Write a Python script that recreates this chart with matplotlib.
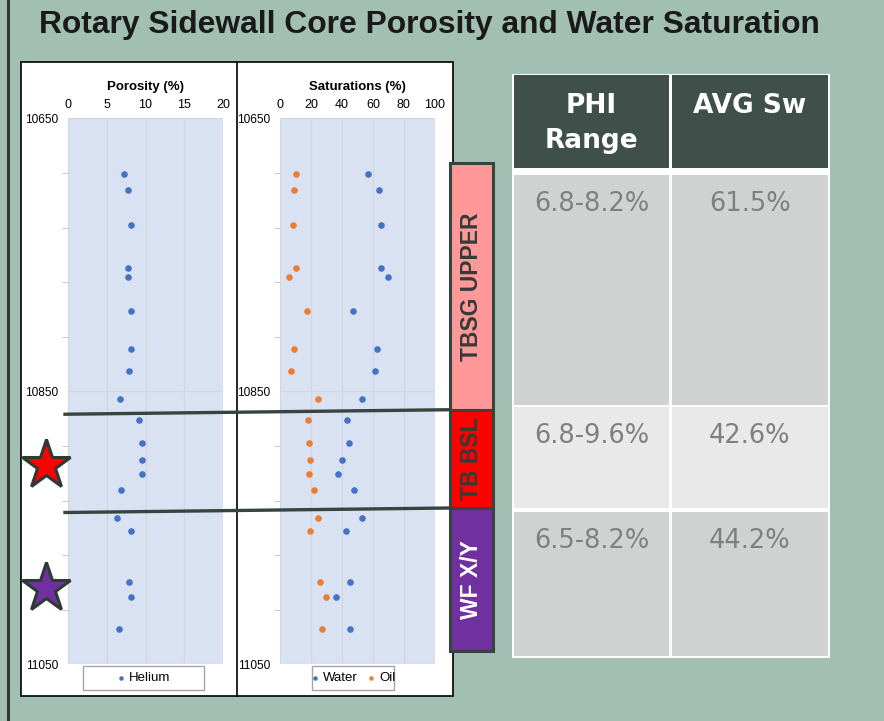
import matplotlib
matplotlib.use('Agg')
import matplotlib.pyplot as plt
import numpy as np
from matplotlib.patches import Rectangle
from matplotlib.lines import Line2D
from matplotlib.transforms import blended_transform_factory

# core sample data
depth = [10690.6, 10702.5, 10728, 10760, 10766.5, 10791, 10819, 10835, 10855.4, 10871,
         10888, 10900, 10910.6, 10922.5, 10943, 10952, 10990, 11001, 11024]
helium = [7.2, 7.7, 8.1, 7.7, 7.8, 8.1, 8.2, 7.9, 6.7, 9.2,
          9.6, 9.6, 9.6, 6.8, 6.4, 8.1, 7.9, 8.2, 6.6]
water = [57.0, 64.0, 65.3, 65.3, 69.6, 47.1, 62.6, 61.3, 52.7, 43.4,
         44.7, 40.2, 37.2, 47.7, 52.7, 42.7, 45.3, 35.9, 45.3]
oil = [10.4, 9.1, 8.4, 10.4, 5.8, 17.5, 9.1, 7.1, 24.2, 17.7,
       18.6, 19.2, 18.6, 21.6, 24.2, 19.2, 25.9, 29.6, 27.2]

# zones
zone_names = ['TBSG UPPER', 'TB BSL', 'WF X/Y']
zone_tops = [10683, 10863.5, 10935.5]
zone_bases = [10863.5, 10935.5, 11040]
zone_colors = ['#FF9999', '#FF0000', '#7030A0']
zone_text = ['#333B38', '#333B38', 'white']
star_depths = [10904, 10994]
star_colors = ['#FF0000', '#7030A0']

# summary table
table_cols = ['PHI\nRange', 'AVG Sw']
phi_range = ['6.8-8.2%', '6.8-9.6%', '6.5-8.2%']
avg_sw = ['61.5%', '42.6%', '44.2%']

W, H = 884, 721
BG = '#A2BFB3'
DARK = '#35443E'


def fx(px):
    return px / W


def fy(py):
    return 1 - py / H


fig = plt.figure(figsize=(W / 100, H / 100), dpi=100, facecolor=BG)
plt.rcParams['font.family'] = ['Liberation Sans', 'DejaVu Sans']

# left border line of the slide
fig.add_artist(Line2D([fx(8), fx(8)], [0, 1], color='#2E3A35', lw=2.2))

# white chart box
fig.add_artist(Rectangle((fx(21), fy(696)), fx(453) - fx(21), fy(62) - fy(696),
                         facecolor='white', edgecolor='black', lw=1.2, zorder=-1))
fig.add_artist(Line2D([fx(237), fx(237)], [fy(696), fy(62)], color='black', lw=1.2, zorder=-0.5))

fig.text(fx(429), fy(25.5), 'Rotary Sidewall Core Porosity and Water Saturation',
         ha='center', va='center', fontsize=22.9, fontweight='bold', color='#1A1A1A')

ax1 = fig.add_axes([fx(67.7), fy(664.3), fx(223.3) - fx(67.7), fy(118.3) - fy(664.3)])
ax2 = fig.add_axes([fx(280.3), fy(664.3), fx(434.7) - fx(280.3), fy(118.3) - fy(664.3)])

minor = [d for d in np.arange(10690, 11050, 40) if d != 10850]
for ax, xmax, step, title in [(ax1, 20, 5, 'Porosity (%)'), (ax2, 100, 20, 'Saturations (%)')]:
    ax.set_facecolor('#D9E2F3')
    for s in ax.spines.values():
        s.set_visible(False)
    ax.set_xlim(0, xmax)
    ax.set_xticks(np.arange(0, xmax + 1, step))
    ax.set_ylim(11050, 10650)
    ax.set_yticks([10650, 10850, 11050])
    ax.set_yticks(minor, minor=True)
    ax.xaxis.tick_top()
    ax.xaxis.set_label_position('top')
    ax.set_xlabel(title, fontsize=9.5, fontweight='bold', labelpad=7)
    ax.tick_params(axis='x', length=0, pad=5, labelsize=9)
    ax.tick_params(axis='y', which='major', length=0, pad=7, labelsize=8.6)
    ax.tick_params(axis='y', which='minor', length=4, color='#BFBFBF', direction='out')
    ax.grid(True, which='major', color='#D3D6DC', lw=0.9)
    ax.set_axisbelow(True)

h1 = ax1.scatter(helium, depth, s=14, color='#4472C4', zorder=3, label='Helium', clip_on=False)
h2 = ax2.scatter(water, depth, s=14, color='#4472C4', zorder=3, label='Water', clip_on=False)
h3 = ax2.scatter(oil, depth, s=14, color='#ED7D31', zorder=3, label='Oil', clip_on=False)

# legend boxes
for (x0, x1), handles in [((83.3, 204.3), [h1]), ((312.3, 394), [h2, h3])]:
    fig.add_artist(Rectangle((fx(x0), fy(690)), fx(x1) - fx(x0), fy(665.7) - fy(690),
                             facecolor='white', edgecolor='#A6A6A6', lw=1, zorder=2))
    leg = fig.legend(handles=handles, loc='center', bbox_to_anchor=(fx((x0 + x1) / 2), fy(678)),
                     ncol=len(handles), frameon=False, fontsize=9.5, handlelength=0.6,
                     handletextpad=0.3, columnspacing=0.7, markerscale=0.6, borderpad=0)
    leg.set_zorder(3)

# zone bands and boundary lines
bt = blended_transform_factory(fig.transFigure, ax1.transData)
for name, top, base, col, tcol in zip(zone_names, zone_tops, zone_bases, zone_colors, zone_text):
    fig.add_artist(Rectangle((fx(449.5), top), fx(492.5) - fx(449.5), base - top,
                             transform=bt, facecolor=col, edgecolor=DARK, lw=2.2, zorder=4))
    fig.text(fx(471), (top + base) / 2, name, transform=bt, rotation=90, ha='center',
             va='center', fontsize=16.5, fontweight='bold', color=tcol, zorder=5)

for b in zone_tops[1:]:
    fig.add_artist(Line2D([fx(65), fx(449)], [b + 3.3, b], transform=bt,
                          color=DARK, lw=2.4, zorder=5))

for d, col in zip(star_depths, star_colors):
    fig.add_artist(Line2D([fx(46)], [d], transform=bt, marker='*', ms=37,
                          mfc=col, mec='#2E3A35', mew=2.2, zorder=5))

# summary table
fig.add_artist(Rectangle((fx(511.7), fy(658)), fx(830) - fx(511.7), fy(74) - fy(658),
                         facecolor='white', edgecolor='none', zorder=1))
col_x = [(514, 669.3), (671.7, 828.3)]
rows_y = [(175, 405), (407.5, 508.3), (511.7, 655.7)]
row_fill = ['#D0D2D1', '#E8E9E8', '#D0D2D1']
for (x0, x1), head in zip(col_x, table_cols):
    fig.add_artist(Rectangle((fx(x0), fy(168.3)), fx(x1) - fx(x0), fy(75.5) - fy(168.3),
                             facecolor='#3E5049', edgecolor='none', zorder=2))
    for i, line in enumerate(head.split('\n')):
        fig.text(fx((x0 + x1) / 2), fy(103 + 35 * i), line, ha='center', va='center_baseline',
                 fontsize=19, fontweight='bold', color='white', family='DejaVu Sans')
for (y0, y1), fill, p, s in zip(rows_y, row_fill, phi_range, avg_sw):
    for (x0, x1), txt in zip(col_x, [p, s]):
        fig.add_artist(Rectangle((fx(x0), fy(y1)), fx(x1) - fx(x0), fy(y0) - fy(y1),
                                 facecolor=fill, edgecolor='none', zorder=2))
        fig.text(fx((x0 + x1) / 2), fy(y0 + 26), txt, ha='center', va='center_baseline',
                 fontsize=18.5, color='#7F7F7F', family='DejaVu Sans')

fig.savefig('out.png', dpi=100, facecolor=BG)
